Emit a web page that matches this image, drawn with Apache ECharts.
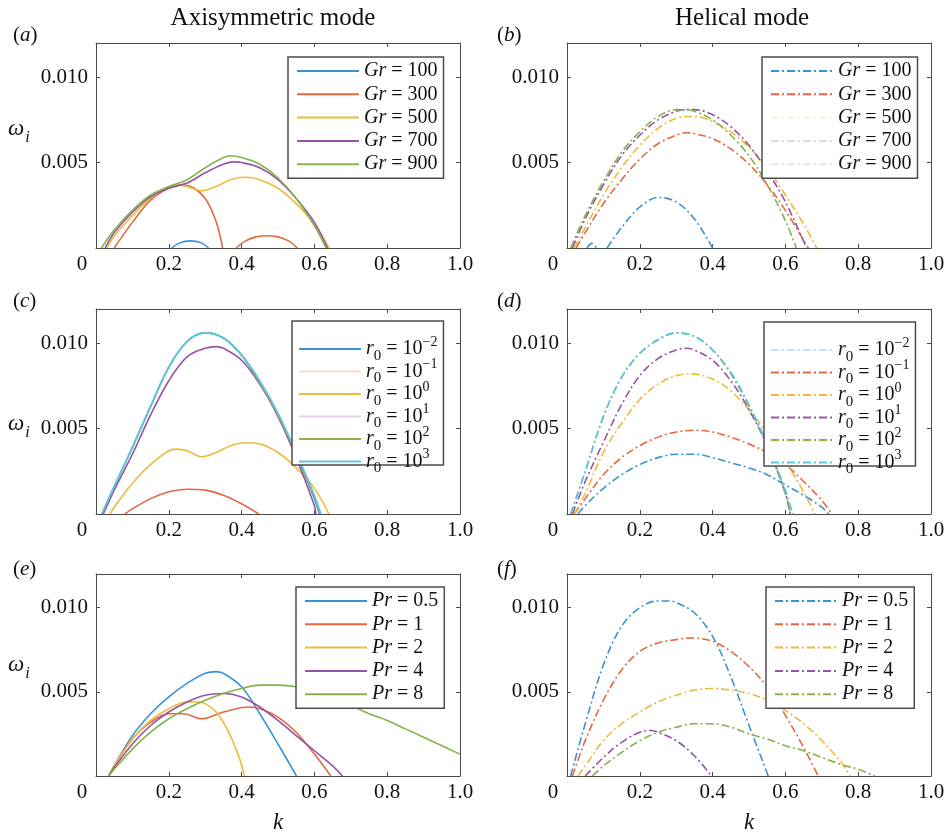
<!DOCTYPE html>
<html>
<head>
<meta charset="utf-8">
<script src="https://cdn.jsdelivr.net/npm/echarts@6/dist/echarts.min.js"></script>
<style>
  html, body { margin: 0; padding: 0; background: #ffffff; }
  #chart { width: 949px; height: 835px; }
</style>
</head>
<body>
<div id="chart"></div>
<script>
// ---------- axis ticks ----------
const kTicks = [0, 0.2, 0.4, 0.6, 0.8, 1.0];
const kTickLabels = ['0', '0.2', '0.4', '0.6', '0.8', '1.0'];
const wTicks = [0.005, 0.010];
const wTickLabels = ['0.005', '0.010'];

const columnTitles = ['Axisymmetric mode', 'Helical mode'];
const panelLetters = ['a', 'b', 'c', 'd', 'e', 'f'];

// ---------- legend values ----------
const grLabels = ['100', '300', '500', '700', '900'];
const r0Exponents = ['\u22122', '\u22121', '0', '1', '2', '3'];
const prLabels = ['0.5', '1', '2', '4', '8'];

// ---------- (a) axisymmetric mode, varying Gr : [k, omega_i] ----------
const a_Gr100 = [[0.208, 0], [0.23, 0.0003], [0.26, 0.00042], [0.29, 0.0003], [0.309, 0]];
const a_Gr300 = [[0.05, 0], [0.1, 0.0015], [0.15, 0.0028], [0.2, 0.0035], [0.24, 0.0037], [0.27, 0.0035],
  [0.3, 0.0029], [0.32, 0.0021], [0.335, 0.0012], [0.348, 0], [0.366, '-'],
  [0.385, 0], [0.41, 0.0004], [0.44, 0.00065], [0.47, 0.00072], [0.5, 0.00065], [0.53, 0.0004], [0.553, 0]];
const a_Gr500 = [[0.03, 0], [0.05, 0.0007], [0.1, 0.0019], [0.15, 0.0029], [0.2, 0.0036], [0.22, 0.0037],
  [0.25, 0.0036], [0.29, 0.00335], [0.33, 0.0036], [0.37, 0.0040], [0.41, 0.00414], [0.45, 0.0040],
  [0.5, 0.0035], [0.55, 0.0026], [0.6, 0.0014], [0.64, 0]];
const a_Gr700 = [[0.025, 0], [0.05, 0.0009], [0.1, 0.0021], [0.15, 0.0030], [0.2, 0.0035], [0.25, 0.0038],
  [0.3, 0.0044], [0.35, 0.0049], [0.38, 0.00504], [0.4, 0.0050], [0.45, 0.0047], [0.5, 0.0040],
  [0.55, 0.0029], [0.6, 0.0015], [0.636, 0]];
const a_Gr900 = [[0.015, 0], [0.05, 0.00105], [0.1, 0.0022], [0.15, 0.0031], [0.2, 0.0036], [0.25, 0.0040],
  [0.3, 0.0047], [0.35, 0.0053], [0.37, 0.0054], [0.4, 0.0053], [0.45, 0.0049], [0.5, 0.0041],
  [0.55, 0.0029], [0.6, 0.0013], [0.632, 0]];

// ---------- (b) helical mode, varying Gr ----------
const b_Gr100 = [[0.055, 0], [0.068, 0.00027], [0.082, 0], [0.096, '-'],
  [0.11, 0], [0.15, 0.0012], [0.2, 0.0024], [0.25, 0.00296], [0.3, 0.0027], [0.35, 0.0017], [0.4, 0]];
const b_Gr300 = [[0.025, 0], [0.05, 0.0009], [0.1, 0.0026], [0.15, 0.0040], [0.2, 0.0052], [0.25, 0.0061],
  [0.3, 0.0066], [0.33, 0.00675], [0.35, 0.0067], [0.4, 0.0064], [0.45, 0.0058], [0.5, 0.0049],
  [0.55, 0.0037], [0.6, 0.0022], [0.663, 0]];
const b_Gr500 = [[0.02, 0], [0.05, 0.0012], [0.1, 0.0031], [0.15, 0.0047], [0.2, 0.0060], [0.25, 0.0070],
  [0.3, 0.0076], [0.33, 0.0077], [0.35, 0.0077], [0.4, 0.0074], [0.45, 0.0068], [0.5, 0.0059],
  [0.55, 0.0047], [0.6, 0.0031], [0.65, 0.0014], [0.686, 0]];
const b_Gr700 = [[0.015, 0], [0.05, 0.0017], [0.1, 0.0037], [0.15, 0.0054], [0.2, 0.0066], [0.25, 0.0075],
  [0.3, 0.0080], [0.33, 0.0081], [0.35, 0.0081], [0.4, 0.0078], [0.45, 0.0071], [0.5, 0.0060],
  [0.55, 0.0045], [0.6, 0.0027], [0.658, 0]];
const b_Gr900 = [[0.01, 0], [0.05, 0.0019], [0.1, 0.0039], [0.15, 0.0056], [0.2, 0.0068], [0.25, 0.0077],
  [0.3, 0.0081], [0.32, 0.0081], [0.35, 0.0080], [0.4, 0.0075], [0.45, 0.0066], [0.5, 0.0054],
  [0.55, 0.0037], [0.6, 0.0016], [0.63, 0]];

// ---------- (c) axisymmetric mode, varying r0 ----------
const c_r0m2 = [[0.016, 0], [0.05, 0.0016], [0.1, 0.0039], [0.15, 0.0063], [0.2, 0.0086], [0.25, 0.0101],
  [0.3, 0.0106], [0.35, 0.0103], [0.4, 0.0093], [0.45, 0.0077], [0.5, 0.0058], [0.55, 0.0035],
  [0.6, 0.0009], [0.614, 0]];
const c_r0m1 = [[0.08, 0], [0.1, 0.0003], [0.15, 0.0009], [0.2, 0.0013], [0.25, 0.00145], [0.3, 0.0014],
  [0.35, 0.0011], [0.4, 0.0006], [0.447, 0]];
const c_r00 = [[0.039, 0], [0.05, 0.0004], [0.1, 0.0018], [0.15, 0.0029], [0.2, 0.0037], [0.22, 0.0038],
  [0.25, 0.0037], [0.29, 0.00335], [0.33, 0.0036], [0.37, 0.0040], [0.41, 0.00417], [0.45, 0.0041],
  [0.5, 0.0036], [0.55, 0.0027], [0.6, 0.0015], [0.64, 0]];
const c_r01 = [[0.02, 0], [0.05, 0.0014], [0.1, 0.0035], [0.15, 0.0058], [0.2, 0.0078], [0.25, 0.0092],
  [0.3, 0.0097], [0.33, 0.0098], [0.35, 0.0097], [0.4, 0.0090], [0.45, 0.0076], [0.5, 0.0057],
  [0.55, 0.0033], [0.6, 0.0005], [0.604, 0]];
const c_r02 = [[0.016, 0], [0.05, 0.0016], [0.1, 0.0039], [0.15, 0.0063], [0.2, 0.0086], [0.25, 0.0101],
  [0.3, 0.0106], [0.35, 0.0103], [0.4, 0.0093], [0.45, 0.0077], [0.5, 0.0058], [0.55, 0.0035],
  [0.6, 0.0010], [0.616, 0]];
const c_r03 = [[0.016, 0], [0.05, 0.0016], [0.1, 0.0039], [0.15, 0.0063], [0.2, 0.0086], [0.25, 0.0101],
  [0.3, 0.0106], [0.35, 0.0103], [0.4, 0.0093], [0.45, 0.0078], [0.5, 0.0059], [0.55, 0.0036],
  [0.6, 0.0011], [0.618, 0]];

// ---------- (d) helical mode, varying r0 ----------
const d_r0m2 = [[0.03, 0], [0.05, 0.0005], [0.1, 0.0015], [0.15, 0.0023], [0.2, 0.0029], [0.25, 0.0033],
  [0.3, 0.0035], [0.35, 0.0035], [0.4, 0.0033], [0.45, 0.0030], [0.5, 0.0027], [0.55, 0.0023],
  [0.6, 0.0017], [0.65, 0.0011], [0.7, 0.0004], [0.718, 0]];
const d_r0m1 = [[0.02, 0], [0.05, 0.0009], [0.1, 0.0023], [0.15, 0.0033], [0.2, 0.0040], [0.25, 0.0045],
  [0.3, 0.0048], [0.35, 0.0049], [0.4, 0.0048], [0.45, 0.0045], [0.5, 0.0041], [0.55, 0.0036],
  [0.6, 0.0029], [0.65, 0.0019], [0.7, 0.0008], [0.727, 0]];
const d_r00 = [[0.02, 0], [0.05, 0.0012], [0.1, 0.0036], [0.15, 0.0053], [0.2, 0.0067], [0.25, 0.0076],
  [0.3, 0.0081], [0.34, 0.0082], [0.4, 0.0079], [0.45, 0.0072], [0.5, 0.0061], [0.55, 0.0047],
  [0.6, 0.0031], [0.65, 0.0013], [0.681, 0]];
const d_r01 = [[0.015, 0], [0.05, 0.0019], [0.1, 0.0042], [0.15, 0.0064], [0.2, 0.0081], [0.25, 0.0091],
  [0.3, 0.0096], [0.33, 0.0097], [0.35, 0.0096], [0.4, 0.0090], [0.45, 0.0078], [0.5, 0.0061],
  [0.55, 0.0040], [0.6, 0.0012], [0.613, 0]];
const d_r02 = [[0.01, 0], [0.05, 0.0025], [0.1, 0.0057], [0.15, 0.0080], [0.2, 0.0094], [0.25, 0.0102],
  [0.3, 0.0106], [0.35, 0.0104], [0.4, 0.0096], [0.45, 0.0082], [0.5, 0.0063], [0.55, 0.0040],
  [0.6, 0.0012], [0.614, 0]];
const d_r03 = [[0.01, 0], [0.05, 0.0025], [0.1, 0.0057], [0.15, 0.0080], [0.2, 0.0094], [0.25, 0.0102],
  [0.3, 0.0106], [0.35, 0.0104], [0.4, 0.0096], [0.45, 0.0083], [0.5, 0.0064], [0.55, 0.0041],
  [0.6, 0.0014], [0.62, 0]];

// ---------- (e) axisymmetric mode, varying Pr ----------
const e_Pr05 = [[0.035, 0], [0.05, 0.0006], [0.1, 0.0024], [0.15, 0.0037], [0.2, 0.0047], [0.25, 0.0055],
  [0.3, 0.0061], [0.33, 0.0062], [0.35, 0.0061], [0.4, 0.0053], [0.45, 0.0037], [0.5, 0.0019], [0.551, 0]];
const e_Pr1 = [[0.035, 0], [0.05, 0.0006], [0.1, 0.0022], [0.15, 0.0032], [0.2, 0.0037], [0.24, 0.0037],
  [0.29, 0.0034], [0.35, 0.0038], [0.42, 0.0041], [0.45, 0.0040], [0.5, 0.0035], [0.55, 0.0026],
  [0.6, 0.0013], [0.645, 0]];
const e_Pr2 = [[0.035, 0], [0.05, 0.0006], [0.1, 0.0022], [0.15, 0.0033], [0.2, 0.0040], [0.25, 0.0044],
  [0.28, 0.0044], [0.3, 0.0043], [0.33, 0.0038], [0.36, 0.0028], [0.39, 0.0013], [0.408, 0]];
const e_Pr4 = [[0.035, 0], [0.05, 0.0005], [0.1, 0.0019], [0.15, 0.0030], [0.2, 0.0038], [0.25, 0.0044],
  [0.3, 0.0048], [0.35, 0.0049], [0.4, 0.0047], [0.45, 0.0041], [0.5, 0.0033], [0.55, 0.0024],
  [0.6, 0.0015], [0.65, 0.0006], [0.677, 0]];
const e_Pr8 = [[0.035, 0], [0.05, 0.0004], [0.1, 0.0016], [0.15, 0.0026], [0.2, 0.0034], [0.25, 0.0040],
  [0.3, 0.0045], [0.35, 0.0049], [0.4, 0.0052], [0.45, 0.0054], [0.5, 0.0054], [0.55, 0.0053],
  [0.6, 0.0050], [0.65, 0.0046], [0.7, 0.0042], [0.75, 0.0037], [0.8, 0.0033], [0.85, 0.0028],
  [0.9, 0.0023], [0.95, 0.0018], [1.0, 0.0013]];

// ---------- (f) helical mode, varying Pr ----------
const f_Pr05 = [[0.01, 0], [0.05, 0.0031], [0.1, 0.0066], [0.15, 0.0089], [0.2, 0.0100], [0.25, 0.0104],
  [0.28, 0.0104], [0.3, 0.0103], [0.35, 0.0097], [0.4, 0.0083], [0.45, 0.0059], [0.5, 0.0030], [0.553, 0]];
const f_Pr1 = [[0.015, 0], [0.05, 0.0021], [0.1, 0.0045], [0.15, 0.0063], [0.2, 0.0074], [0.25, 0.0079],
  [0.3, 0.0081], [0.34, 0.0082], [0.4, 0.0080], [0.45, 0.0074], [0.5, 0.0065], [0.55, 0.0053],
  [0.6, 0.0036], [0.65, 0.0017], [0.69, 0]];
const f_Pr2 = [[0.03, 0], [0.05, 0.0006], [0.1, 0.0021], [0.15, 0.0031], [0.2, 0.0038], [0.25, 0.0044],
  [0.3, 0.0048], [0.35, 0.0051], [0.4, 0.0052], [0.45, 0.0051], [0.5, 0.0049], [0.55, 0.0045],
  [0.6, 0.0039], [0.65, 0.0031], [0.7, 0.0021], [0.75, 0.0009], [0.778, 0]];
const f_Pr4 = [[0.05, 0], [0.1, 0.0011], [0.15, 0.0020], [0.2, 0.0026], [0.23, 0.0027], [0.25, 0.0026],
  [0.3, 0.0021], [0.35, 0.0012], [0.397, 0]];
const f_Pr8 = [[0.07, 0], [0.1, 0.0006], [0.15, 0.0014], [0.2, 0.0021], [0.25, 0.0026], [0.3, 0.0029],
  [0.35, 0.0031], [0.4, 0.0031], [0.45, 0.0029], [0.5, 0.0025], [0.55, 0.0022], [0.6, 0.0018],
  [0.65, 0.0015], [0.7, 0.0011], [0.75, 0.0007], [0.8, 0.0004], [0.846, 0]];

// ---------- panel contents ----------
const panels = [
  { kind: 'Gr', labels: grLabels, series: [a_Gr100, a_Gr300, a_Gr500, a_Gr700, a_Gr900] },
  { kind: 'Gr', labels: grLabels, series: [b_Gr100, b_Gr300, b_Gr500, b_Gr700, b_Gr900] },
  { kind: 'r0', labels: r0Exponents, series: [c_r0m2, c_r0m1, c_r00, c_r01, c_r02, c_r03] },
  { kind: 'r0', labels: r0Exponents, series: [d_r0m2, d_r0m1, d_r00, d_r01, d_r02, d_r03] },
  { kind: 'Pr', labels: prLabels, series: [e_Pr05, e_Pr1, e_Pr2, e_Pr4, e_Pr8] },
  { kind: 'Pr', labels: prLabels, series: [f_Pr05, f_Pr1, f_Pr2, f_Pr4, f_Pr8] }
];

// ---------- styling and layout ----------
const FONT = '"Liberation Serif", "Times New Roman", serif';
const INK = '#111111';
const AXIS_COLOR = '#4a4a4a';
const SERIES_COLORS = ['#3b93d3', '#e4683f', '#f0b93a', '#9453a8', '#83b44a', '#5ec4ec'];
const DASH_DOT = [8, 3, 2, 3];
const GRID_LEFT = [96, 567];
const GRID_TOP = [43, 309, 574];
const GRID_W = 364, GRID_H = 205;
const LEGEND_POS = [[288, 57], [762, 57], [292, 321], [764, 322], [296, 587], [766, 587]];
const LEGEND_FADED = { 1: [2, 3, 4], 2: [1, 3], 3: [0] };
const LETTER_POS = [[13, 35], [497, 35], [13, 301], [497, 301], [13, 569], [497, 569]];
const OMEGA_Y = [129, 424, 665];
const TITLE_X = [273, 742];

// sub/superscripts are shifted with unbalanced padding
const legendRich = {
  i: { fontFamily: FONT, fontStyle: 'italic', fontSize: 20, color: INK },
  t: { fontFamily: FONT, fontSize: 20, color: INK },
  sub: { fontFamily: FONT, fontSize: 15, color: INK, padding: [7, 0, -7, 0] },
  sup: { fontFamily: FONT, fontSize: 14, color: INK, padding: [-7, 0, 7, 0] }
};

function legendText(kind, value) {
  if (kind === 'Gr') return '{i|Gr}{t| = ' + value + '}';
  if (kind === 'Pr') return '{i|Pr}{t| = ' + value + '}';
  return '{i|r}{sub|0}{t| = 10}{sup|' + value + '}';
}

const nameMap = {};
const grid = [], xAxis = [], yAxis = [], series = [], legend = [];

panels.forEach((p, pi) => {
  const col = pi % 2, row = Math.floor(pi / 2);
  const dashed = col === 1;
  grid.push({ left: GRID_LEFT[col], top: GRID_TOP[row], width: GRID_W, height: GRID_H, show: false });

  const axisLine = { show: true, onZero: false, lineStyle: { color: AXIS_COLOR, width: 1 } };
  const axisTick = { show: true, inside: true, length: 4, lineStyle: { color: AXIS_COLOR, width: 1 } };

  xAxis.push({
    gridIndex: pi, type: 'value', min: 0, max: 1, interval: 0.2, position: 'bottom',
    axisLine, axisTick, splitLine: { show: false },
    axisLabel: {
      margin: 6, fontFamily: FONT, fontSize: 21, color: INK, showMinLabel: true, showMaxLabel: true,
      formatter: (v) => {
        const i = kTicks.findIndex(t => Math.abs(t - v) < 1e-9);
        if (i < 0) return '';
        return i === 0 ? '{z|' + kTickLabels[0] + '}' : kTickLabels[i];
      },
      rich: { z: { fontFamily: FONT, fontSize: 21, color: INK, padding: [0, 28, 0, 0] } }
    },
    name: row === 2 ? 'k' : '', nameLocation: 'middle', nameGap: 35,
    nameTextStyle: { fontFamily: FONT, fontStyle: 'italic', fontSize: 23, color: INK }
  });
  xAxis.push({
    gridIndex: pi, type: 'value', min: 0, max: 1, interval: 0.2, position: 'top',
    axisLine, axisTick, splitLine: { show: false }, axisLabel: { show: false }
  });
  yAxis.push({
    gridIndex: pi, type: 'value', min: 0, max: 0.012, interval: 0.005, position: 'left',
    axisLine, axisTick, splitLine: { show: false },
    axisLabel: {
      margin: 8, fontFamily: FONT, fontSize: 21, color: INK, showMaxLabel: false,
      formatter: (v) => {
        const i = wTicks.findIndex(t => Math.abs(t - v) < 1e-9);
        return i < 0 ? '' : wTickLabels[i];
      }
    }
  });
  yAxis.push({
    gridIndex: pi, type: 'value', min: 0, max: 0.012, interval: 0.005, position: 'right',
    axisLine, axisTick, splitLine: { show: false }, axisLabel: { show: false }
  });

  const legendData = [];
  p.series.forEach((data, si) => {
    const name = panelLetters[pi] + ':' + p.kind + ':' + p.labels[si];
    nameMap[name] = legendText(p.kind, p.labels[si]);
    const color = SERIES_COLORS[si];
    series.push({
      type: 'line', name, data, xAxisIndex: pi * 2, yAxisIndex: pi * 2,
      symbol: 'none', showSymbol: false, smooth: 0.35, connectNulls: false, clip: true,
      lineStyle: { color, width: 1.6, type: dashed ? DASH_DOT : 'solid' },
      itemStyle: { color },
      emphasis: { disabled: true }, silent: true, animation: false
    });
    const faded = (LEGEND_FADED[pi] || []).indexOf(si) >= 0;
    legendData.push(faded ? { name, lineStyle: { opacity: 0.25 } } : { name });
  });

  // r0 rows carry taller text boxes, so the gap and bottom padding are pulled in
  const isR0 = p.kind === 'r0';
  legend.push({
    orient: 'vertical', left: LEGEND_POS[pi][0], top: LEGEND_POS[pi][1],
    itemWidth: 62, itemHeight: 20, itemGap: isR0 ? -6 : 3.3,
    padding: isR0 ? [14, 6, -11, 6] : [4, 6, 4, 8],
    backgroundColor: '#ffffff', borderColor: '#4d4d4d', borderWidth: 1.5, borderRadius: 0,
    selectedMode: false, data: legendData,
    itemStyle: { opacity: 0, borderWidth: 0 },
    formatter: (name) => nameMap[name],
    textStyle: { fontFamily: FONT, fontSize: 20, color: INK, rich: legendRich }
  });
});

// titles, panel letters and the omega_i labels
const graphic = [];
columnTitles.forEach((t, i) => {
  graphic.push({
    type: 'text', x: TITLE_X[i], y: 18, silent: true,
    style: { text: t, fontFamily: FONT, fontSize: 25, fill: INK, align: 'center', verticalAlign: 'middle' }
  });
});
panelLetters.forEach((l, i) => {
  graphic.push({
    type: 'text', x: LETTER_POS[i][0], y: LETTER_POS[i][1], silent: true,
    style: {
      text: '{p|(}{l|' + l + '}{p|)}', align: 'left', verticalAlign: 'middle',
      rich: {
        p: { fontFamily: FONT, fontSize: 21, fill: INK },
        l: { fontFamily: FONT, fontStyle: 'italic', fontSize: 21, fill: INK }
      }
    }
  });
});
OMEGA_Y.forEach((y) => {
  graphic.push({
    type: 'text', x: 8, y: y, silent: true,
    style: {
      text: '{w|\u03c9}{s|i}', align: 'left', verticalAlign: 'middle',
      rich: {
        w: { fontFamily: FONT, fontStyle: 'italic', fontSize: 23, fill: INK, lineHeight: 26 },
        s: { fontFamily: FONT, fontStyle: 'italic', fontSize: 16, fill: INK, lineHeight: 26, padding: [18, 0, 0, 1] }
      }
    }
  });
});

const chart = echarts.init(document.getElementById('chart'), null, { renderer: 'canvas' });
chart.setOption({
  backgroundColor: '#ffffff',
  animation: false,
  grid, xAxis, yAxis, series, legend, graphic
});
</script>
</body>
</html>
